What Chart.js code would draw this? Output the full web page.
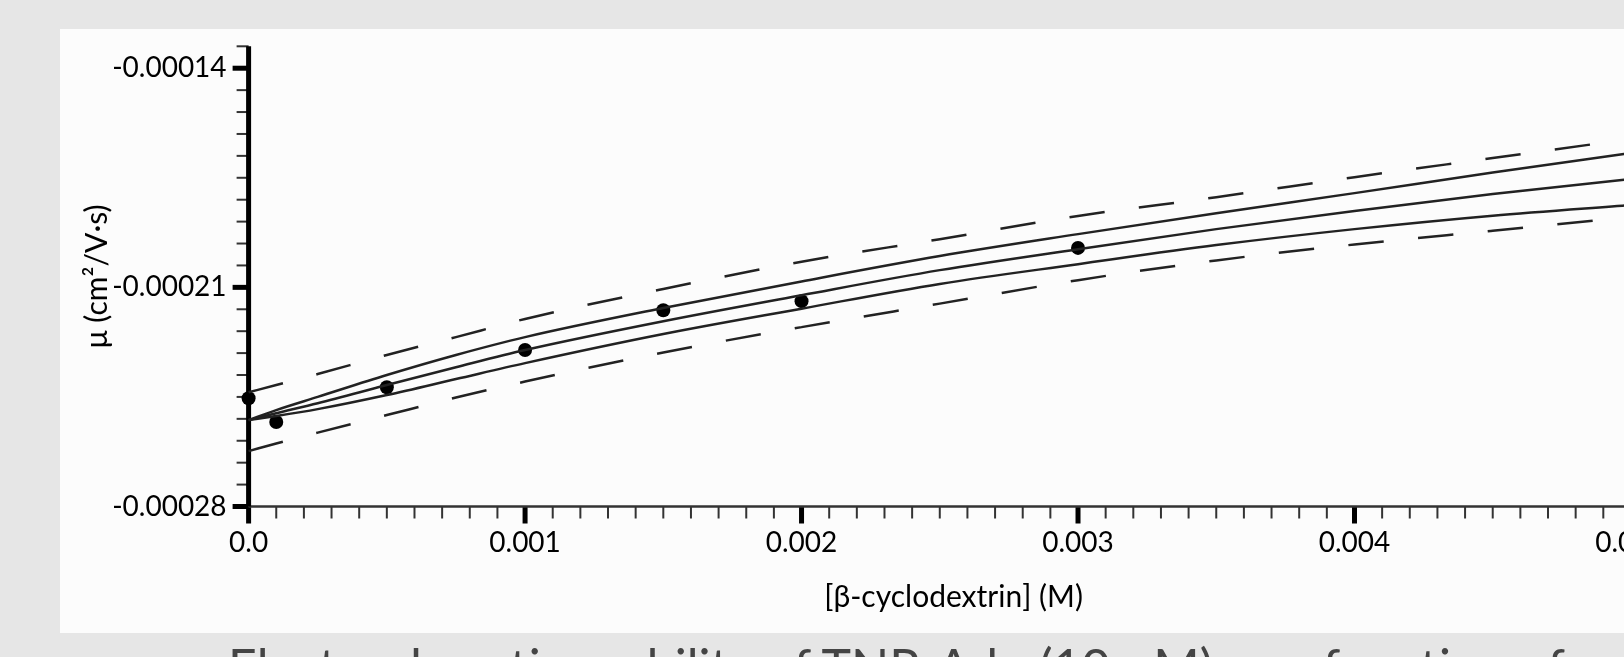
<!DOCTYPE html>
<html>
<head>
<meta charset="utf-8">
<script src="https://cdn.jsdelivr.net/npm/chart.js@4.4.1/dist/chart.umd.min.js"></script>
<style>
  html, body { margin: 0; padding: 0; }
  body { width: 1624px; height: 657px; overflow: hidden; background: #e6e6e6; position: relative; }
  #panel { position: absolute; left: 60px; top: 29px; width: 1620px; height: 604px; background: #fcfcfc; }
  #panel canvas { position: absolute; left: 0; top: 0; }
  #caption { position: absolute; left: 228px; top: 641px; font-family: Lato, sans-serif; font-size: 50px; line-height: 50px; color: #444; white-space: nowrap; }
</style>
</head>
<body>
<div id="panel"><canvas id="chart" width="1620" height="604"></canvas></div>
<div id="caption">Electrophoretic mobility of TNP-Ado (10 μM) as a function of</div>
<script>
// measured points
const pointX = [0, 0.0001, 0.0005, 0.001, 0.0015, 0.002, 0.003];
const pointY = [-0.0002454, -0.0002530, -0.0002419, -0.0002300, -0.0002173, -0.0002144, -0.0001974];

// fitted curve, confidence band (solid) and prediction band (dashed)
const curveX = [0, 0.0001, 0.00025, 0.0005, 0.00075, 0.001, 0.0015, 0.002, 0.0025, 0.003, 0.0035, 0.004, 0.0045, 0.005];
const fitY = [-0.0002524, -0.0002502, -0.0002470, -0.0002412, -0.0002355, -0.0002300, -0.0002208, -0.0002125, -0.0002045, -0.0001978, -0.0001914, -0.0001856, -0.0001802, -0.0001754];
const confUpper = [-0.0002524, -0.0002492, -0.0002450, -0.0002380, -0.0002316, -0.0002259, -0.0002166, -0.0002081, -0.0002000, -0.0001930, -0.0001863, -0.0001799, -0.0001733, -0.0001671];
const confLower = [-0.0002524, -0.0002511, -0.0002489, -0.0002444, -0.0002393, -0.0002342, -0.0002249, -0.0002168, -0.0002089, -0.0002026, -0.0001965, -0.0001914, -0.0001871, -0.0001837];
const predUpper = [-0.0002435, -0.0002412, -0.0002377, -0.0002316, -0.0002259, -0.0002201, -0.0002105, -0.0002018, -0.0001946, -0.0001872, -0.0001812, -0.0001748, -0.0001687, -0.0001626];
const predLower = [-0.0002623, -0.0002599, -0.0002564, -0.0002508, -0.0002452, -0.0002401, -0.0002308, -0.0002227, -0.0002152, -0.0002077, -0.0002014, -0.0001963, -0.0001919, -0.0001875];

// axes
const xTickLabels = ['0.0', '0.001', '0.002', '0.003', '0.004', '0.005'];
const xMin = 0, xMax = 0.0051, xMinorStep = 0.0001;
const yTickLabels = ['-0.00028', '-0.00021', '-0.00014'];
const yMin = -0.00028, yMax = -0.000133, yMinorStep = 0.000007;

const toXY = (ys) => curveX.map((x, i) => ({ x: x, y: ys[i] }));

const curveStyle = {
    showLine: true,
    pointRadius: 0,
    borderColor: '#222',
    borderWidth: 2.5,
    tension: 0.4,
    cubicInterpolationMode: 'monotone',
    fill: false,
    clip: false
};

// axis lines and tick marks drawn from the scales
const axisTicks = {
    id: 'axisTicks',
    beforeDatasetsDraw(chart) {
        const { ctx, chartArea, scales } = chart;
        const xs = scales.x, ys = scales.y;
        ctx.save();
        ctx.lineCap = 'butt';
        xs.ticks.forEach((t, i) => {
            const px = xs.getPixelForValue(t.value);
            const major = i % 10 === 0;
            ctx.strokeStyle = major ? '#000' : '#333';
            ctx.lineWidth = major ? 5 : 2;
            ctx.beginPath();
            ctx.moveTo(px, chartArea.bottom);
            ctx.lineTo(px, chartArea.bottom + (major ? 17 : 12));
            ctx.stroke();
        });
        ys.ticks.forEach((t, i) => {
            const py = ys.getPixelForValue(t.value);
            const major = i % 10 === 0;
            ctx.strokeStyle = major ? '#000' : '#333';
            ctx.lineWidth = major ? 5 : 2;
            ctx.beginPath();
            ctx.moveTo(chartArea.left, py);
            ctx.lineTo(chartArea.left - (major ? 16 : 12), py);
            ctx.stroke();
        });
        ctx.strokeStyle = '#333';
        ctx.lineWidth = 2.5;
        ctx.beginPath();
        ctx.moveTo(chartArea.left, chartArea.bottom);
        ctx.lineTo(chartArea.right, chartArea.bottom);
        ctx.stroke();
        ctx.strokeStyle = '#000';
        ctx.lineWidth = 5;
        ctx.beginPath();
        ctx.moveTo(chartArea.left, chartArea.top);
        ctx.lineTo(chartArea.left, chartArea.bottom);
        ctx.stroke();
        ctx.restore();
    }
};

const tickFont = { family: 'Lato', size: 28 };
const titleFont = { family: 'Lato', size: 30 };

new Chart(document.getElementById('chart'), {
    type: 'scatter',
    data: {
        datasets: [
            Object.assign({ data: toXY(predUpper), borderDash: [35.5, 34.5] }, curveStyle),
            Object.assign({ data: toXY(confUpper) }, curveStyle),
            Object.assign({ data: toXY(fitY) }, curveStyle),
            Object.assign({ data: toXY(confLower) }, curveStyle),
            Object.assign({ data: toXY(predLower), borderDash: [35.5, 34.5] }, curveStyle),
            {
                data: pointX.map((x, i) => ({ x: x, y: pointY[i] })),
                pointRadius: 7,
                pointHoverRadius: 7,
                backgroundColor: '#000',
                borderWidth: 0,
                clip: false
            }
        ]
    },
    options: {
        responsive: false,
        animation: false,
        events: [],
        layout: { padding: { top: 17.3, right: 21.4, bottom: 0, left: 0 } },
        plugins: { legend: { display: false }, tooltip: { enabled: false } },
        scales: {
            x: {
                type: 'linear',
                min: xMin,
                max: xMax,
                afterBuildTicks: (scale) => {
                    const n = Math.round((xMax - xMin) / xMinorStep);
                    scale.ticks = Array.from({ length: n + 1 }, (_, i) => ({ value: xMin + i * xMinorStep }));
                },
                afterFit: (scale) => {
                    scale.height = 126.5;
                    scale.paddingLeft = 0;
                    scale.paddingRight = 0;
                },
                grid: { display: false, drawTicks: true, tickLength: 12 },
                border: { display: false },
                ticks: {
                    autoSkip: false,
                    maxRotation: 0,
                    padding: 8,
                    color: '#000',
                    font: tickFont,
                    callback: (v, i) => (i % 10 === 0 && xTickLabels[i / 10] ? xTickLabels[i / 10] : '')
                },
                title: {
                    display: true,
                    text: '[β-cyclodextrin] (M)',
                    color: '#000',
                    font: titleFont,
                    padding: { top: 0, bottom: 18 }
                }
            },
            y: {
                type: 'linear',
                min: yMin,
                max: yMax,
                afterBuildTicks: (scale) => {
                    const n = Math.round((yMax - yMin) / yMinorStep);
                    scale.ticks = Array.from({ length: n + 1 }, (_, i) => ({ value: yMin + i * yMinorStep }));
                },
                afterFit: (scale) => {
                    scale.width = 188.6;
                    scale.paddingTop = 0;
                    scale.paddingBottom = 0;
                },
                grid: { display: false, drawTicks: true, tickLength: 12 },
                border: { display: false },
                ticks: {
                    autoSkip: false,
                    padding: 10,
                    color: '#000',
                    font: tickFont,
                    callback: (v, i) => (i % 10 === 0 && yTickLabels[i / 10] ? yTickLabels[i / 10] : '')
                },
                title: {
                    display: true,
                    text: 'μ (cm²/V·s)',
                    color: '#000',
                    font: titleFont,
                    padding: { top: 19, bottom: 0 }
                }
            }
        }
    },
    plugins: [axisTicks]
});
</script>
</body>
</html>
